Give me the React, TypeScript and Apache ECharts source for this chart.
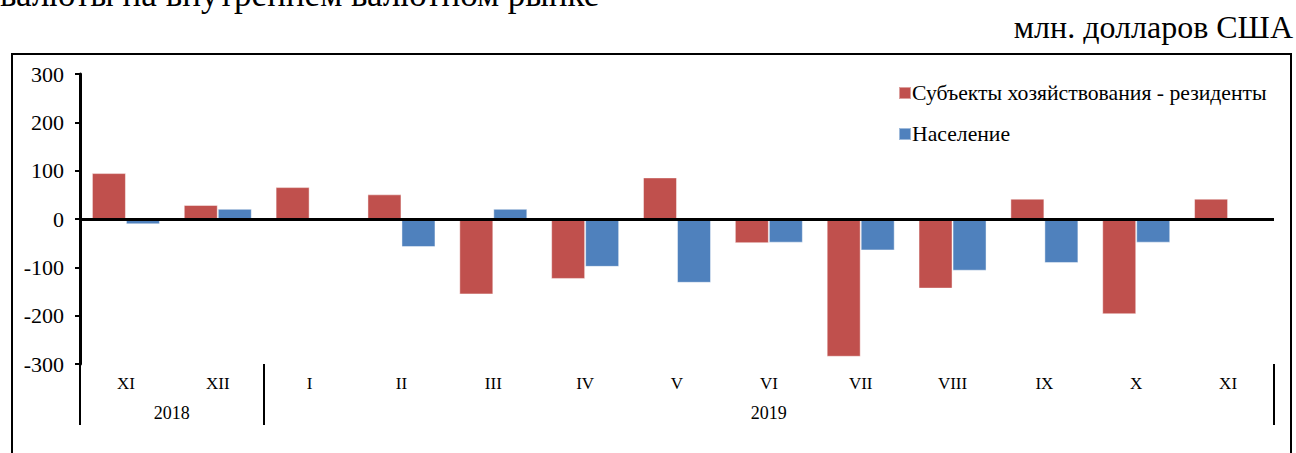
import React, { useEffect, useRef } from "react";
import * as echarts from "echarts";

const months = ["XI", "XII", "I", "II", "III", "IV", "V", "VI", "VII", "VIII", "IX", "X", "XI"];
const residents = [95, 29, 66, 51, -156, -124, 86, -50, -285, -144, 42, -197, 42];
const population = [-11, 21, 0, -58, 21, -99, -132, -49, -65, -107, -91, -49, null];
const yearLabels: Record<string, string> = { "1": "2018", "7.5": "2019" };
const yearCenters = [1, 7.5];
const yearBounds = [0, 2, 13];
const seriesNames = ["Субъекты хозяйствования - резиденты", "Население"];
const unitsText = "млн. долларов США";
const titleText = "валюты на внутреннем валютном рынке";

const FONT = "Liberation Serif";

export default function App() {
  const ref = useRef<HTMLDivElement>(null);
  useEffect(() => {
    if (!ref.current) return;
    const chart = echarts.init(ref.current, null, { renderer: "svg" });
    chart.setOption({
      animation: false,
      backgroundColor: "#ffffff",
      textStyle: { fontFamily: FONT, color: "#000" },
      grid: { left: 80, right: 22, top: 74, bottom: 89 },
      legend: {
        orient: "vertical",
        left: 893,
        top: 77,
        itemWidth: 12,
        itemHeight: 12,
        itemGap: 19,
        icon: "rect",
        textStyle: { fontFamily: FONT, fontSize: 21.7, color: "#000", padding: [0, 0, 0, -4] },
        data: seriesNames,
      },
      xAxis: [
        {
          type: "category",
          data: months,
          position: "bottom",
          axisLine: { show: false },
          axisTick: { show: false },
          axisLabel: { fontFamily: FONT, fontSize: 17, color: "#000", margin: 11 },
          splitLine: { show: false },
        },
        {
          type: "value",
          min: 0,
          max: 13,
          position: "bottom",
          axisLine: { show: false },
          splitLine: { show: false },
          axisTick: {
            show: true,
            customValues: yearBounds,
            length: 61,
            lineStyle: { color: "#000", width: 2 },
          },
          axisLabel: {
            show: true,
            customValues: yearCenters,
            formatter: (v: number) => yearLabels[String(v)] ?? "",
            fontFamily: FONT,
            fontSize: 18,
            color: "#000",
            margin: 40,
          },
        },
      ],
      yAxis: {
        type: "value",
        min: -300,
        max: 300,
        interval: 100,
        axisLine: { show: true, lineStyle: { color: "#000", width: 3 } },
        axisTick: { show: true, length: 5, lineStyle: { color: "#000", width: 2 } },
        axisLabel: { fontFamily: FONT, fontSize: 22, color: "#000", margin: 16 },
        splitLine: { show: false },
      },
      series: [
        {
          name: seriesNames[0],
          type: "bar",
          data: residents,
          barWidth: 34,
          barGap: "0%",
          itemStyle: { color: "#C0504D", borderColor: "rgba(255,255,255,0.45)", borderWidth: 1 },
          markLine: {
            silent: true,
            symbol: "none",
            label: { show: false },
            lineStyle: { color: "#000", width: 3, type: "solid" },
            data: [{ yAxis: 0 }],
            z: 10,
          },
        },
        {
          name: seriesNames[1],
          type: "bar",
          data: population,
          barWidth: 34,
          barGap: "0%",
          itemStyle: { color: "#4F81BD", borderColor: "rgba(255,255,255,0.45)", borderWidth: 1 },
        },
      ],
      graphic: [
        {
          type: "rect",
          shape: { x: 12, y: 54, width: 1279, height: 440 },
          style: { fill: "none", stroke: "#000", lineWidth: 2 },
          z: 100,
        },
        {
          type: "text",
          x: 1293,
          y: 11,
          style: {
            text: unitsText,
            fontFamily: FONT,
            fontSize: 32,
            fill: "#000",
            align: "right",
            verticalAlign: "top",
          },
        },
        {
          type: "text",
          x: 0,
          y: 12,
          style: {
            text: titleText,
            fontFamily: FONT,
            fontSize: 35,
            fill: "#000",
            align: "left",
            verticalAlign: "bottom",
          },
        },
      ],
    });
    return () => chart.dispose();
  }, []);
  return (
    <div
      ref={ref}
      style={{ position: "fixed", left: 0, top: 0, width: 1296, height: 453, background: "#fff" }}
    />
  );
}
